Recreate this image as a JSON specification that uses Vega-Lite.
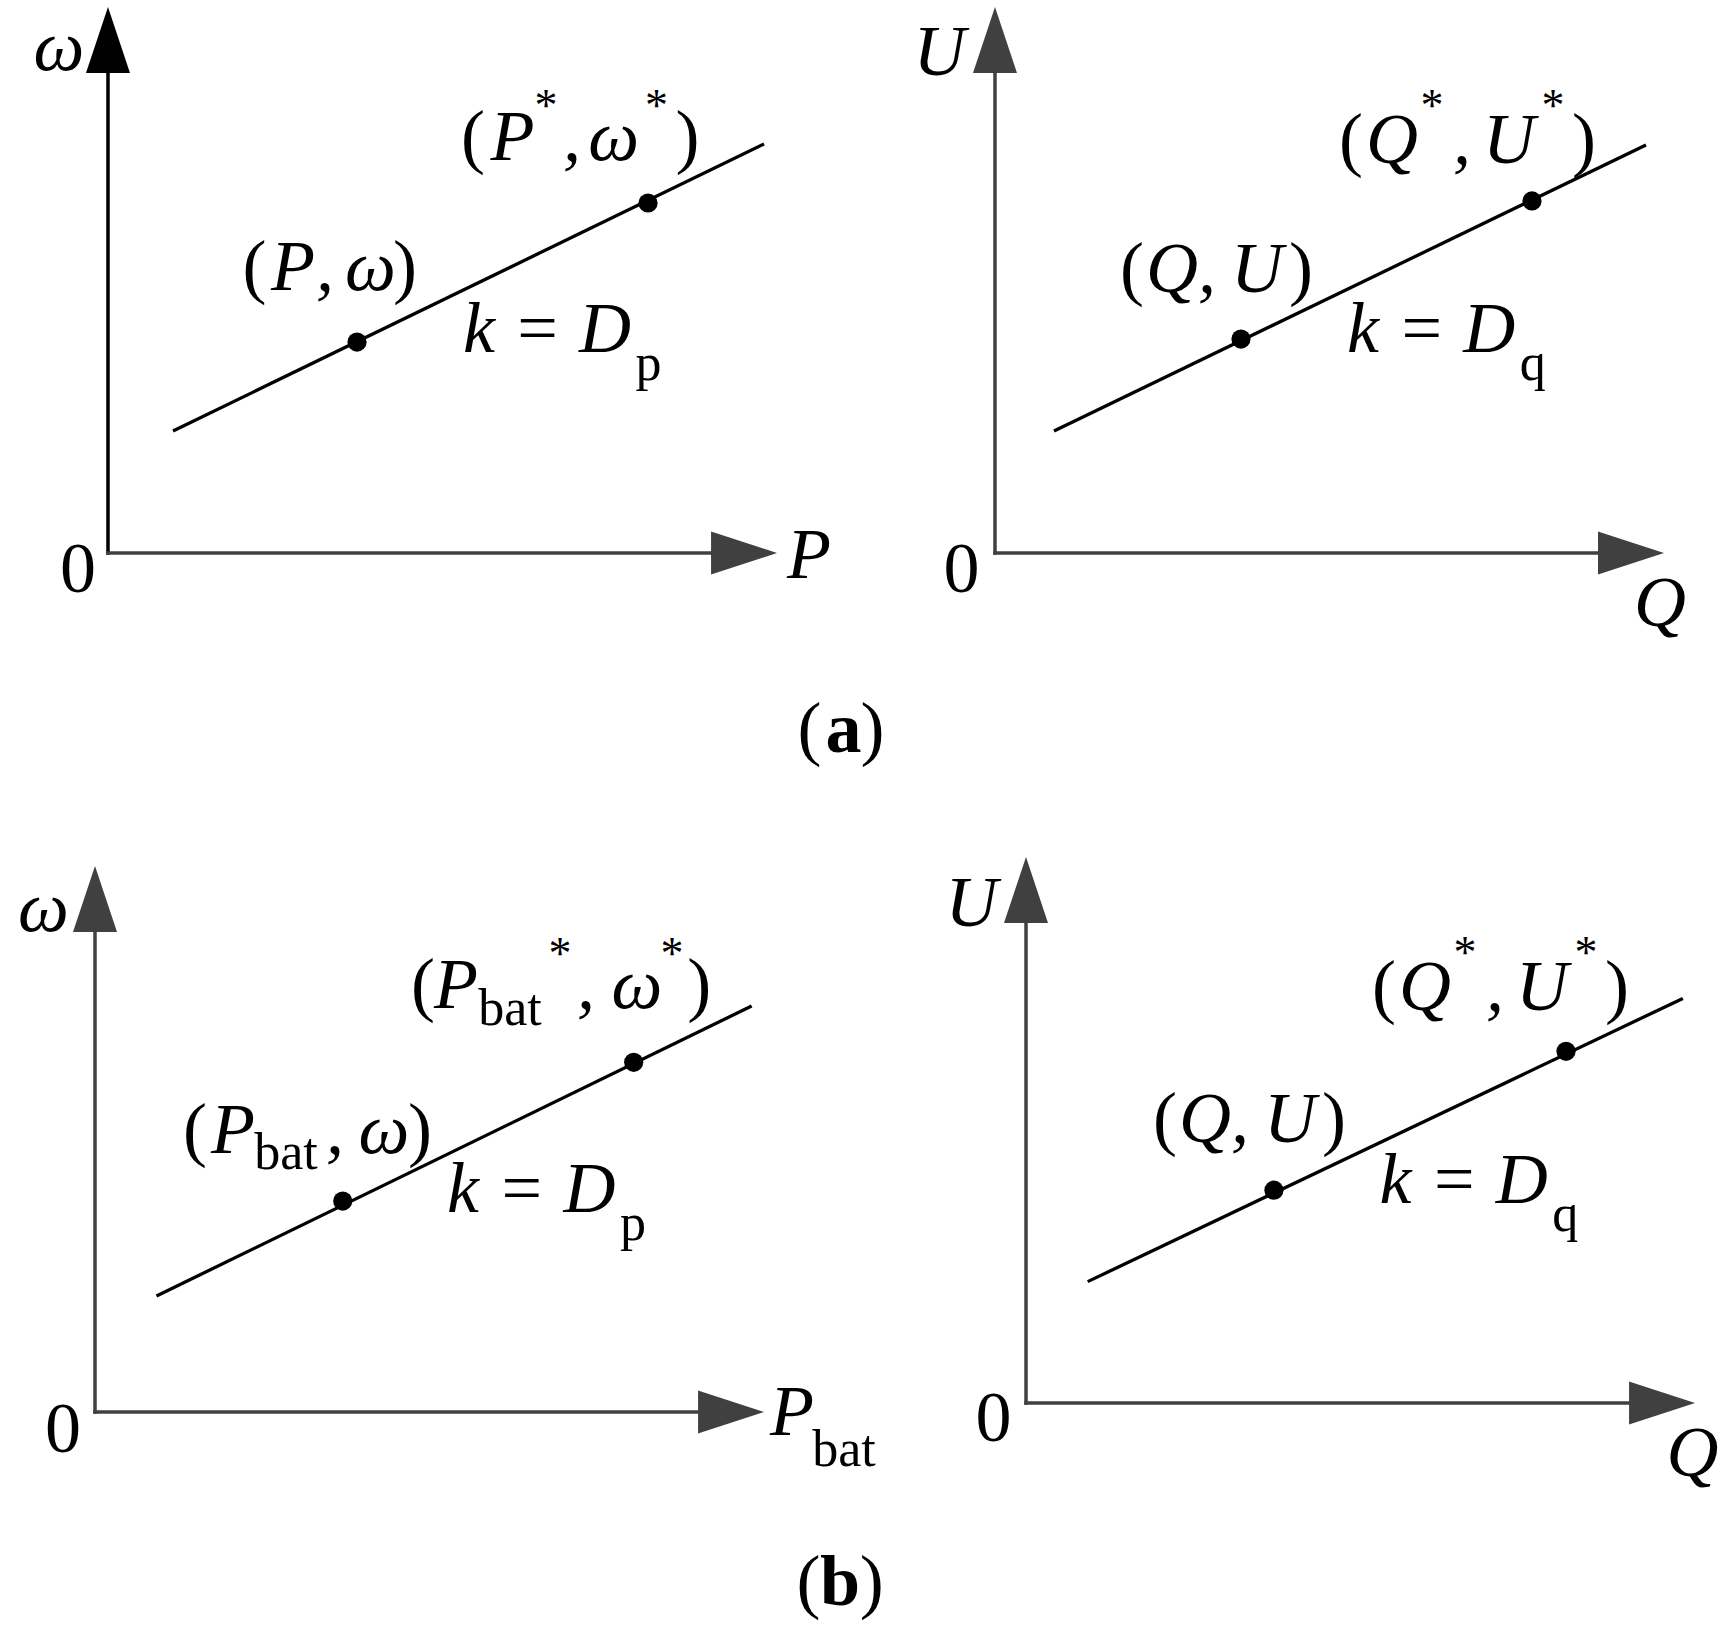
{
  "$schema": "https://vega.github.io/schema/vega-lite/v6.json",
  "background": "white",
  "padding": 0,
  "spacing": 0,
  "config": {"view": {"stroke": null}, "concat": {"spacing": 0}},
  "datasets": {
    "axes": [
      {"panel": "a-left", "axis": "vertical", "x": 0, "y": 0, "x2": 0, "y2": 9.2},
      {"panel": "a-left", "axis": "horizontal", "x": 0, "y": 0, "x2": 9.3, "y2": 0},
      {"panel": "a-right", "axis": "vertical", "x": 0, "y": 0, "x2": 0, "y2": 9.2},
      {"panel": "a-right", "axis": "horizontal", "x": 0, "y": 0, "x2": 9.3, "y2": 0},
      {"panel": "b-left", "axis": "vertical", "x": 0, "y": 0, "x2": 0, "y2": 9.2},
      {"panel": "b-left", "axis": "horizontal", "x": 0, "y": 0, "x2": 9.3, "y2": 0},
      {"panel": "b-right", "axis": "vertical", "x": 0, "y": 0, "x2": 0, "y2": 9.2},
      {"panel": "b-right", "axis": "horizontal", "x": 0, "y": 0, "x2": 9.3, "y2": 0}
    ],
    "arrows": [
      {"panel": "a-left", "axis": "vertical", "x": 0, "y": 9.396},
      {"panel": "a-left", "axis": "horizontal", "x": 9.507, "y": 0},
      {"panel": "a-right", "axis": "vertical", "x": 0, "y": 9.396},
      {"panel": "a-right", "axis": "horizontal", "x": 9.507, "y": 0},
      {"panel": "b-left", "axis": "vertical", "x": 0, "y": 9.396},
      {"panel": "b-left", "axis": "horizontal", "x": 9.507, "y": 0},
      {"panel": "b-right", "axis": "vertical", "x": 0, "y": 9.396},
      {"panel": "b-right", "axis": "horizontal", "x": 9.507, "y": 0}
    ],
    "lines": [
      {"panel": "a-left", "x": 0.972, "y": 2.234},
      {"panel": "a-left", "x": 9.806, "y": 7.491},
      {"panel": "a-right", "x": 0.882, "y": 2.234},
      {"panel": "a-right", "x": 9.731, "y": 7.473},
      {"panel": "b-left", "x": 0.919, "y": 2.125},
      {"panel": "b-left", "x": 9.815, "y": 7.436},
      {"panel": "b-right", "x": 0.922, "y": 2.223},
      {"panel": "b-right", "x": 9.818, "y": 7.41}
    ],
    "dots": [
      {"panel": "a-left", "x": 3.722, "y": 3.864},
      {"panel": "a-left", "x": 8.072, "y": 6.41},
      {"panel": "a-right", "x": 3.677, "y": 3.919},
      {"panel": "a-right", "x": 8.027, "y": 6.447},
      {"panel": "b-left", "x": 3.703, "y": 3.864},
      {"panel": "b-left", "x": 8.052, "y": 6.405},
      {"panel": "b-right", "x": 3.706, "y": 3.897},
      {"panel": "b-right", "x": 8.072, "y": 6.441}
    ],
    "labels": [
      {"panel": "a-left", "role": "variable", "text": "ω", "x": -0.732, "y": 8.846},
      {"panel": "a-left", "role": "symbol", "text": "0", "x": -0.448, "y": -0.714},
      {"panel": "a-left", "role": "variable", "text": "P", "x": 10.478, "y": -0.458},
      {"panel": "a-left", "role": "symbol", "text": "(", "x": 2.19, "y": 4.817},
      {"panel": "a-left", "role": "variable", "text": "P", "x": 2.765, "y": 4.817},
      {"panel": "a-left", "role": "variable", "text": ",", "x": 3.244, "y": 4.817},
      {"panel": "a-left", "role": "variable", "text": "ω", "x": 3.924, "y": 4.817},
      {"panel": "a-left", "role": "symbol", "text": ")", "x": 4.439, "y": 4.817},
      {"panel": "a-left", "role": "symbol", "text": "(", "x": 5.456, "y": 7.198},
      {"panel": "a-left", "role": "variable", "text": "P", "x": 6.046, "y": 7.198},
      {"panel": "a-left", "role": "superscript", "text": "*", "x": 6.547, "y": 7.912},
      {"panel": "a-left", "role": "variable", "text": ",", "x": 6.936, "y": 7.198},
      {"panel": "a-left", "role": "variable", "text": "ω", "x": 7.56, "y": 7.198},
      {"panel": "a-left", "role": "superscript", "text": "*", "x": 8.199, "y": 7.912},
      {"panel": "a-left", "role": "symbol", "text": ")", "x": 8.662, "y": 7.198},
      {"panel": "a-left", "role": "variable", "text": "k", "x": 5.546, "y": 3.681},
      {"panel": "a-left", "role": "symbol", "text": "=", "x": 6.42, "y": 3.681},
      {"panel": "a-left", "role": "variable", "text": "D", "x": 7.429, "y": 3.681},
      {"panel": "a-left", "role": "subscript", "text": "p", "x": 8.079, "y": 3.168},

      {"panel": "a-right", "role": "variable", "text": "U", "x": -0.83, "y": 8.755},
      {"panel": "a-right", "role": "symbol", "text": "0", "x": -0.501, "y": -0.714},
      {"panel": "a-right", "role": "variable", "text": "Q", "x": 9.94, "y": -1.34},
      {"panel": "a-right", "role": "symbol", "text": "(", "x": 2.048, "y": 4.78},
      {"panel": "a-right", "role": "variable", "text": "Q", "x": 2.646, "y": 4.78},
      {"panel": "a-right", "role": "variable", "text": ",", "x": 3.169, "y": 4.78},
      {"panel": "a-right", "role": "variable", "text": "U", "x": 3.916, "y": 4.78},
      {"panel": "a-right", "role": "symbol", "text": ")", "x": 4.574, "y": 4.78},
      {"panel": "a-right", "role": "symbol", "text": "(", "x": 5.321, "y": 7.143},
      {"panel": "a-right", "role": "variable", "text": "Q", "x": 5.934, "y": 7.143},
      {"panel": "a-right", "role": "superscript", "text": "*", "x": 6.532, "y": 7.912},
      {"panel": "a-right", "role": "variable", "text": ",", "x": 6.981, "y": 7.143},
      {"panel": "a-right", "role": "variable", "text": "U", "x": 7.683, "y": 7.143},
      {"panel": "a-right", "role": "superscript", "text": "*", "x": 8.341, "y": 7.912},
      {"panel": "a-right", "role": "symbol", "text": ")", "x": 8.804, "y": 7.143},
      {"panel": "a-right", "role": "variable", "text": "k", "x": 5.5, "y": 3.681},
      {"panel": "a-right", "role": "symbol", "text": "=", "x": 6.38, "y": 3.681},
      {"panel": "a-right", "role": "variable", "text": "D", "x": 7.39, "y": 3.681},
      {"panel": "a-right", "role": "subscript", "text": "q", "x": 8.04, "y": 3.168},

      {"panel": "b-left", "role": "variable", "text": "ω", "x": -0.77, "y": 8.81},
      {"panel": "b-left", "role": "symbol", "text": "0", "x": -0.478, "y": -0.733},
      {"panel": "b-left", "role": "variable", "text": "P", "x": 10.418, "y": -0.421},
      {"panel": "b-left", "role": "subscript", "text": "bat", "x": 11.196, "y": -0.989},
      {"panel": "b-left", "role": "symbol", "text": "(", "x": 1.495, "y": 4.744},
      {"panel": "b-left", "role": "variable", "text": "P", "x": 2.063, "y": 4.744},
      {"panel": "b-left", "role": "subscript", "text": "bat", "x": 2.855, "y": 4.451},
      {"panel": "b-left", "role": "variable", "text": ",", "x": 3.587, "y": 4.744},
      {"panel": "b-left", "role": "variable", "text": "ω", "x": 4.32, "y": 4.744},
      {"panel": "b-left", "role": "symbol", "text": ")", "x": 4.858, "y": 4.744},
      {"panel": "b-left", "role": "symbol", "text": "(", "x": 4.903, "y": 7.399},
      {"panel": "b-left", "role": "variable", "text": "P", "x": 5.396, "y": 7.399},
      {"panel": "b-left", "role": "subscript", "text": "bat", "x": 6.203, "y": 7.088},
      {"panel": "b-left", "role": "superscript", "text": "*", "x": 6.951, "y": 8.114},
      {"panel": "b-left", "role": "variable", "text": ",", "x": 7.34, "y": 7.399},
      {"panel": "b-left", "role": "variable", "text": "ω", "x": 8.1, "y": 7.399},
      {"panel": "b-left", "role": "superscript", "text": "*", "x": 8.625, "y": 8.114},
      {"panel": "b-left", "role": "symbol", "text": ")", "x": 9.03, "y": 7.399},
      {"panel": "b-left", "role": "variable", "text": "k", "x": 5.5, "y": 3.663},
      {"panel": "b-left", "role": "symbol", "text": "=", "x": 6.38, "y": 3.663},
      {"panel": "b-left", "role": "variable", "text": "D", "x": 7.39, "y": 3.663},
      {"panel": "b-left", "role": "subscript", "text": "p", "x": 8.04, "y": 3.15},

      {"panel": "b-right", "role": "variable", "text": "U", "x": -0.815, "y": 8.736},
      {"panel": "b-right", "role": "symbol", "text": "0", "x": -0.486, "y": -0.696},
      {"panel": "b-right", "role": "variable", "text": "Q", "x": 9.963, "y": -1.34},
      {"panel": "b-right", "role": "symbol", "text": "(", "x": 2.078, "y": 4.78},
      {"panel": "b-right", "role": "variable", "text": "Q", "x": 2.676, "y": 4.78},
      {"panel": "b-right", "role": "variable", "text": ",", "x": 3.199, "y": 4.78},
      {"panel": "b-right", "role": "variable", "text": "U", "x": 3.946, "y": 4.78},
      {"panel": "b-right", "role": "symbol", "text": ")", "x": 4.604, "y": 4.78},
      {"panel": "b-right", "role": "symbol", "text": "(", "x": 5.351, "y": 7.19},
      {"panel": "b-right", "role": "variable", "text": "Q", "x": 5.964, "y": 7.19},
      {"panel": "b-right", "role": "superscript", "text": "*", "x": 6.562, "y": 7.96},
      {"panel": "b-right", "role": "variable", "text": ",", "x": 7.011, "y": 7.19},
      {"panel": "b-right", "role": "variable", "text": "U", "x": 7.713, "y": 7.19},
      {"panel": "b-right", "role": "superscript", "text": "*", "x": 8.371, "y": 7.96},
      {"panel": "b-right", "role": "symbol", "text": ")", "x": 8.834, "y": 7.19},
      {"panel": "b-right", "role": "variable", "text": "k", "x": 5.523, "y": 3.663},
      {"panel": "b-right", "role": "symbol", "text": "=", "x": 6.4, "y": 3.663},
      {"panel": "b-right", "role": "variable", "text": "D", "x": 7.41, "y": 3.663},
      {"panel": "b-right", "role": "subscript", "text": "q", "x": 8.06, "y": 3.15}
    ],
    "captions": [
      {"caption": "a", "role": "symbol", "text": "(", "x": 0.4685, "y": 0.345},
      {"caption": "a", "role": "letter", "text": "a", "x": 0.4881, "y": 0.345},
      {"caption": "a", "role": "symbol", "text": ")", "x": 0.5049, "y": 0.345},
      {"caption": "b", "role": "symbol", "text": "(", "x": 0.4679, "y": 0.27},
      {"caption": "b", "role": "letter", "text": "b", "x": 0.4861, "y": 0.27},
      {"caption": "b", "role": "symbol", "text": ")", "x": 0.5045, "y": 0.27}
    ]
  },
  "vconcat": [
    {
      "spacing": 0,
      "bounds": "flush",
      "hconcat": [
        {
          "width": 864, "height": 680,
          "encoding": {
            "x": {"field": "x", "type": "quantitative", "scale": {"domain": [-1.614, 11.3], "zero": false, "nice": false}, "axis": null},
            "y": {"field": "y", "type": "quantitative", "scale": {"domain": [-2.326, 10.128], "zero": false, "nice": false}, "axis": null}
          },
          "layer": [
            {"data": {"name": "axes"}, "transform": [{"filter": "datum.panel === 'a-left'"}],
             "mark": {"type": "rule", "strokeWidth": 3.5, "strokeCap": "square"},
             "encoding": {"x2": {"field": "x2"}, "y2": {"field": "y2"},
               "color": {"field": "axis", "type": "nominal", "scale": {"domain": ["vertical", "horizontal"], "range": ["#000000", "#404040"]}, "legend": null}}},
            {"data": {"name": "arrows"}, "transform": [{"filter": "datum.panel === 'a-left'"}],
             "mark": {"type": "point", "filled": true, "opacity": 1, "size": 4356, "strokeWidth": 0},
             "encoding": {
               "shape": {"field": "axis", "type": "nominal", "scale": {"domain": ["vertical", "horizontal"], "range": ["M0,-1L0.667,1L-0.667,1Z", "M1,0L-1,0.65L-1,-0.65Z"]}, "legend": null},
               "color": {"field": "axis", "type": "nominal", "scale": {"domain": ["vertical", "horizontal"], "range": ["#000000", "#404040"]}, "legend": null}}},
            {"data": {"name": "lines"}, "transform": [{"filter": "datum.panel === 'a-left'"}],
             "mark": {"type": "line", "color": "#000000", "strokeWidth": 3.3}, "encoding": {}},
            {"data": {"name": "dots"}, "transform": [{"filter": "datum.panel === 'a-left'"}],
             "mark": {"type": "circle", "color": "#000000", "size": 370, "opacity": 1}, "encoding": {}},
            {"data": {"name": "labels"}, "transform": [{"filter": "datum.panel === 'a-left' && datum.role === 'variable'"}],
             "mark": {"type": "text", "font": "Liberation Serif", "fontSize": 72, "fontStyle": "italic", "align": "center", "baseline": "alphabetic", "color": "#000000"},
             "encoding": {"text": {"field": "text"}}},
            {"data": {"name": "labels"}, "transform": [{"filter": "datum.panel === 'a-left' && datum.role === 'symbol'"}],
             "mark": {"type": "text", "font": "Liberation Serif", "fontSize": 72, "align": "center", "baseline": "alphabetic", "color": "#000000"},
             "encoding": {"text": {"field": "text"}}},
            {"data": {"name": "labels"}, "transform": [{"filter": "datum.panel === 'a-left' && datum.role === 'subscript'"}],
             "mark": {"type": "text", "font": "Liberation Serif", "fontSize": 52, "align": "center", "baseline": "alphabetic", "color": "#000000"},
             "encoding": {"text": {"field": "text"}}},
            {"data": {"name": "labels"}, "transform": [{"filter": "datum.panel === 'a-left' && datum.role === 'superscript'"}],
             "mark": {"type": "text", "font": "Liberation Serif", "fontSize": 46, "align": "center", "baseline": "alphabetic", "color": "#000000"},
             "encoding": {"text": {"field": "text"}}}
          ]
        },
        {
          "width": 864, "height": 680,
          "encoding": {
            "x": {"field": "x", "type": "quantitative", "scale": {"domain": [-1.958, 10.957], "zero": false, "nice": false}, "axis": null},
            "y": {"field": "y", "type": "quantitative", "scale": {"domain": [-2.326, 10.128], "zero": false, "nice": false}, "axis": null}
          },
          "layer": [
            {"data": {"name": "axes"}, "transform": [{"filter": "datum.panel === 'a-right'"}],
             "mark": {"type": "rule", "strokeWidth": 3.5, "strokeCap": "square", "color": "#404040"},
             "encoding": {"x2": {"field": "x2"}, "y2": {"field": "y2"}}},
            {"data": {"name": "arrows"}, "transform": [{"filter": "datum.panel === 'a-right'"}],
             "mark": {"type": "point", "filled": true, "opacity": 1, "size": 4356, "strokeWidth": 0, "color": "#404040"},
             "encoding": {
               "shape": {"field": "axis", "type": "nominal", "scale": {"domain": ["vertical", "horizontal"], "range": ["M0,-1L0.667,1L-0.667,1Z", "M1,0L-1,0.65L-1,-0.65Z"]}, "legend": null}}},
            {"data": {"name": "lines"}, "transform": [{"filter": "datum.panel === 'a-right'"}],
             "mark": {"type": "line", "color": "#000000", "strokeWidth": 3.3}, "encoding": {}},
            {"data": {"name": "dots"}, "transform": [{"filter": "datum.panel === 'a-right'"}],
             "mark": {"type": "circle", "color": "#000000", "size": 370, "opacity": 1}, "encoding": {}},
            {"data": {"name": "labels"}, "transform": [{"filter": "datum.panel === 'a-right' && datum.role === 'variable'"}],
             "mark": {"type": "text", "font": "Liberation Serif", "fontSize": 72, "fontStyle": "italic", "align": "center", "baseline": "alphabetic", "color": "#000000"},
             "encoding": {"text": {"field": "text"}}},
            {"data": {"name": "labels"}, "transform": [{"filter": "datum.panel === 'a-right' && datum.role === 'symbol'"}],
             "mark": {"type": "text", "font": "Liberation Serif", "fontSize": 72, "align": "center", "baseline": "alphabetic", "color": "#000000"},
             "encoding": {"text": {"field": "text"}}},
            {"data": {"name": "labels"}, "transform": [{"filter": "datum.panel === 'a-right' && datum.role === 'subscript'"}],
             "mark": {"type": "text", "font": "Liberation Serif", "fontSize": 52, "align": "center", "baseline": "alphabetic", "color": "#000000"},
             "encoding": {"text": {"field": "text"}}},
            {"data": {"name": "labels"}, "transform": [{"filter": "datum.panel === 'a-right' && datum.role === 'superscript'"}],
             "mark": {"type": "text", "font": "Liberation Serif", "fontSize": 46, "align": "center", "baseline": "alphabetic", "color": "#000000"},
             "encoding": {"text": {"field": "text"}}}
          ]
        }
      ]
    },
    {
      "width": 1728, "height": 110,
      "data": {"name": "captions"},
      "transform": [{"filter": "datum.caption === 'a'"}],
      "encoding": {
        "x": {"field": "x", "type": "quantitative", "scale": {"domain": [0, 1], "zero": false, "nice": false}, "axis": null},
        "y": {"field": "y", "type": "quantitative", "scale": {"domain": [0, 1], "zero": false, "nice": false}, "axis": null},
        "text": {"field": "text"}
      },
      "layer": [
        {"transform": [{"filter": "datum.role === 'symbol'"}],
         "mark": {"type": "text", "font": "Liberation Serif", "fontSize": 72, "align": "center", "baseline": "alphabetic", "color": "#000000"}},
        {"transform": [{"filter": "datum.role === 'letter'"}],
         "mark": {"type": "text", "font": "Liberation Serif", "fontSize": 72, "fontWeight": "bold", "align": "center", "baseline": "alphabetic", "color": "#000000"}}
      ]
    },
    {
      "spacing": 0,
      "bounds": "flush",
      "hconcat": [
        {
          "width": 890, "height": 750,
          "encoding": {
            "x": {"field": "x", "type": "quantitative", "scale": {"domain": [-1.42, 11.883], "zero": false, "nice": false}, "axis": null},
            "y": {"field": "y", "type": "quantitative", "scale": {"domain": [-2.344, 11.392], "zero": false, "nice": false}, "axis": null}
          },
          "layer": [
            {"data": {"name": "axes"}, "transform": [{"filter": "datum.panel === 'b-left'"}],
             "mark": {"type": "rule", "strokeWidth": 3.5, "strokeCap": "square", "color": "#404040"},
             "encoding": {"x2": {"field": "x2"}, "y2": {"field": "y2"}}},
            {"data": {"name": "arrows"}, "transform": [{"filter": "datum.panel === 'b-left'"}],
             "mark": {"type": "point", "filled": true, "opacity": 1, "size": 4356, "strokeWidth": 0, "color": "#404040"},
             "encoding": {
               "shape": {"field": "axis", "type": "nominal", "scale": {"domain": ["vertical", "horizontal"], "range": ["M0,-1L0.667,1L-0.667,1Z", "M1,0L-1,0.65L-1,-0.65Z"]}, "legend": null}}},
            {"data": {"name": "lines"}, "transform": [{"filter": "datum.panel === 'b-left'"}],
             "mark": {"type": "line", "color": "#000000", "strokeWidth": 3.3}, "encoding": {}},
            {"data": {"name": "dots"}, "transform": [{"filter": "datum.panel === 'b-left'"}],
             "mark": {"type": "circle", "color": "#000000", "size": 370, "opacity": 1}, "encoding": {}},
            {"data": {"name": "labels"}, "transform": [{"filter": "datum.panel === 'b-left' && datum.role === 'variable'"}],
             "mark": {"type": "text", "font": "Liberation Serif", "fontSize": 72, "fontStyle": "italic", "align": "center", "baseline": "alphabetic", "color": "#000000"},
             "encoding": {"text": {"field": "text"}}},
            {"data": {"name": "labels"}, "transform": [{"filter": "datum.panel === 'b-left' && datum.role === 'symbol'"}],
             "mark": {"type": "text", "font": "Liberation Serif", "fontSize": 72, "align": "center", "baseline": "alphabetic", "color": "#000000"},
             "encoding": {"text": {"field": "text"}}},
            {"data": {"name": "labels"}, "transform": [{"filter": "datum.panel === 'b-left' && datum.role === 'subscript'"}],
             "mark": {"type": "text", "font": "Liberation Serif", "fontSize": 52, "align": "center", "baseline": "alphabetic", "color": "#000000"},
             "encoding": {"text": {"field": "text"}}},
            {"data": {"name": "labels"}, "transform": [{"filter": "datum.panel === 'b-left' && datum.role === 'superscript'"}],
             "mark": {"type": "text", "font": "Liberation Serif", "fontSize": 46, "align": "center", "baseline": "alphabetic", "color": "#000000"},
             "encoding": {"text": {"field": "text"}}}
          ]
        },
        {
          "width": 838, "height": 750,
          "encoding": {
            "x": {"field": "x", "type": "quantitative", "scale": {"domain": [-2.033, 10.493], "zero": false, "nice": false}, "axis": null},
            "y": {"field": "y", "type": "quantitative", "scale": {"domain": [-2.509, 11.227], "zero": false, "nice": false}, "axis": null}
          },
          "layer": [
            {"data": {"name": "axes"}, "transform": [{"filter": "datum.panel === 'b-right'"}],
             "mark": {"type": "rule", "strokeWidth": 3.5, "strokeCap": "square", "color": "#404040"},
             "encoding": {"x2": {"field": "x2"}, "y2": {"field": "y2"}}},
            {"data": {"name": "arrows"}, "transform": [{"filter": "datum.panel === 'b-right'"}],
             "mark": {"type": "point", "filled": true, "opacity": 1, "size": 4356, "strokeWidth": 0, "color": "#404040"},
             "encoding": {
               "shape": {"field": "axis", "type": "nominal", "scale": {"domain": ["vertical", "horizontal"], "range": ["M0,-1L0.667,1L-0.667,1Z", "M1,0L-1,0.65L-1,-0.65Z"]}, "legend": null}}},
            {"data": {"name": "lines"}, "transform": [{"filter": "datum.panel === 'b-right'"}],
             "mark": {"type": "line", "color": "#000000", "strokeWidth": 3.3}, "encoding": {}},
            {"data": {"name": "dots"}, "transform": [{"filter": "datum.panel === 'b-right'"}],
             "mark": {"type": "circle", "color": "#000000", "size": 370, "opacity": 1}, "encoding": {}},
            {"data": {"name": "labels"}, "transform": [{"filter": "datum.panel === 'b-right' && datum.role === 'variable'"}],
             "mark": {"type": "text", "font": "Liberation Serif", "fontSize": 72, "fontStyle": "italic", "align": "center", "baseline": "alphabetic", "color": "#000000"},
             "encoding": {"text": {"field": "text"}}},
            {"data": {"name": "labels"}, "transform": [{"filter": "datum.panel === 'b-right' && datum.role === 'symbol'"}],
             "mark": {"type": "text", "font": "Liberation Serif", "fontSize": 72, "align": "center", "baseline": "alphabetic", "color": "#000000"},
             "encoding": {"text": {"field": "text"}}},
            {"data": {"name": "labels"}, "transform": [{"filter": "datum.panel === 'b-right' && datum.role === 'subscript'"}],
             "mark": {"type": "text", "font": "Liberation Serif", "fontSize": 52, "align": "center", "baseline": "alphabetic", "color": "#000000"},
             "encoding": {"text": {"field": "text"}}},
            {"data": {"name": "labels"}, "transform": [{"filter": "datum.panel === 'b-right' && datum.role === 'superscript'"}],
             "mark": {"type": "text", "font": "Liberation Serif", "fontSize": 46, "align": "center", "baseline": "alphabetic", "color": "#000000"},
             "encoding": {"text": {"field": "text"}}}
          ]
        }
      ]
    },
    {
      "width": 1728, "height": 89,
      "data": {"name": "captions"},
      "transform": [{"filter": "datum.caption === 'b'"}],
      "encoding": {
        "x": {"field": "x", "type": "quantitative", "scale": {"domain": [0, 1], "zero": false, "nice": false}, "axis": null},
        "y": {"field": "y", "type": "quantitative", "scale": {"domain": [0, 1], "zero": false, "nice": false}, "axis": null},
        "text": {"field": "text"}
      },
      "layer": [
        {"transform": [{"filter": "datum.role === 'symbol'"}],
         "mark": {"type": "text", "font": "Liberation Serif", "fontSize": 72, "align": "center", "baseline": "alphabetic", "color": "#000000"}},
        {"transform": [{"filter": "datum.role === 'letter'"}],
         "mark": {"type": "text", "font": "Liberation Serif", "fontSize": 72, "fontWeight": "bold", "align": "center", "baseline": "alphabetic", "color": "#000000"}}
      ]
    }
  ]
}
